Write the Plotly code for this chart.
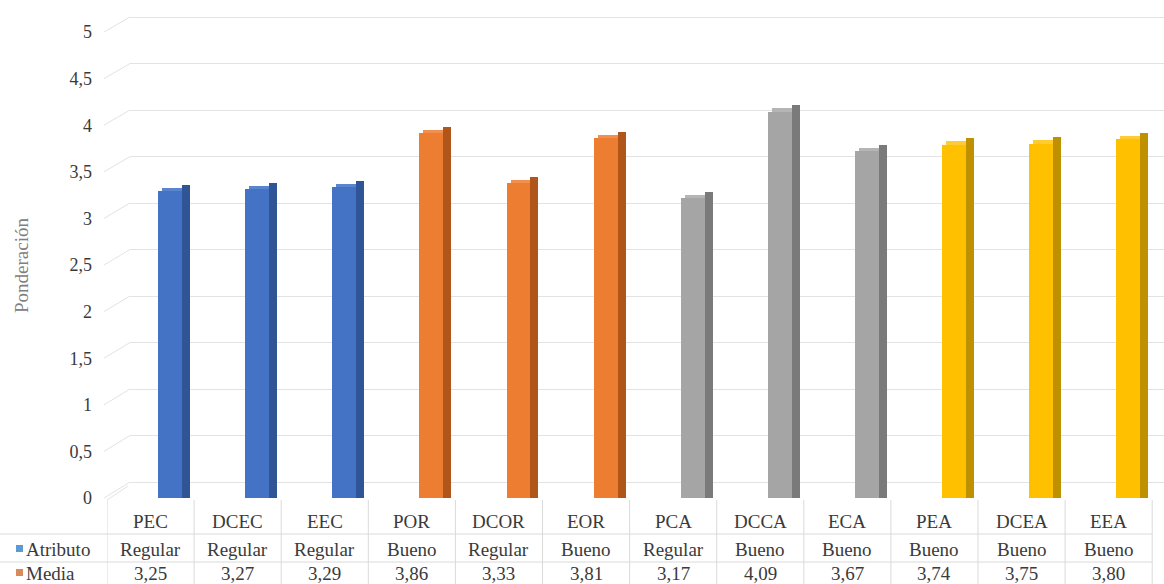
import plotly.graph_objects as go

# ---------------- data ----------------
categories = ["PEC", "DCEC", "EEC", "POR", "DCOR", "EOR", "PCA", "DCCA", "ECA", "PEA", "DCEA", "EEA"]
media = [3.25, 3.27, 3.29, 3.86, 3.33, 3.81, 3.17, 4.09, 3.67, 3.74, 3.75, 3.80]
atributo = ["Regular", "Regular", "Regular", "Bueno", "Regular", "Bueno",
            "Regular", "Bueno", "Bueno", "Bueno", "Bueno", "Bueno"]
media_labels = ["3,25", "3,27", "3,29", "3,86", "3,33", "3,81", "3,17", "4,09", "3,67", "3,74", "3,75", "3,80"]
tick_vals = [0, 0.5, 1, 1.5, 2, 2.5, 3, 3.5, 4, 4.5, 5]
tick_text = ["0", "0,5", "1", "1,5", "2", "2,5", "3", "3,5", "4", "4,5", "5"]
y_title = "Ponderación"

# ---------------- styling ----------------
front_cols = ["#4472C4"] * 3 + ["#ED7D31"] * 3 + ["#A5A5A5"] * 3 + ["#FFC000"] * 3
top_cols = ["#5B84CF"] * 3 + ["#F08F4E"] * 3 + ["#B5B5B5"] * 3 + ["#FFCB33"] * 3
side_cols = ["#2F5597"] * 3 + ["#B0561A"] * 3 + ["#7A7A7A"] * 3 + ["#BF9000"] * 3

W, H = 1164, 584
ML, MR, MT, MB = 107, 0, 15, 86
PW, PH = W - ML - MR, H - MT - MB
BOTTOM = H - MB                          # pixel row of plot bottom

LABEL_R = 5 * PH / 466.0                 # tick-label axis (5 at ~32 px)
BAR_R = PH / 94.5                        # bar axis
BACK_LO = -(BOTTOM - 482) / 93.0         # back wall grid
BACK_HI = BACK_LO + PH / 93.0

COLW = 87.1
X_HI = (PW / COLW) - 0.5                 # table right edge at ~1152

def px_x(p):
    return (p - ML) / PW

def px_y(p):
    return (BOTTOM - p) / PH

text_col = "#3A3A3A"
serif = "Liberation Serif"
FS = 19

bw = 0.275
front_off = 0.087
depth_x = 0.092

fig = go.Figure()

# invisible anchors for the grid subplot and the label axis
fig.add_trace(go.Scatter(x=[0], y=[0], xaxis="x", yaxis="y", mode="markers",
                         marker=dict(opacity=0), showlegend=False, hoverinfo="skip"))
fig.add_trace(go.Scatter(x=[categories[0]], y=[0], xaxis="x2", yaxis="y3", mode="markers",
                         marker=dict(opacity=0), showlegend=False, hoverinfo="skip"))

# top face
fig.add_trace(go.Bar(x=categories, y=[v + 0.035 for v in media], xaxis="x2", yaxis="y2",
                     width=bw, offset=front_off + depth_x / 2,
                     marker=dict(color=top_cols, line=dict(width=0)),
                     showlegend=False, hoverinfo="skip"))
# side face
fig.add_trace(go.Bar(x=categories, y=[v + 0.065 for v in media], xaxis="x2", yaxis="y2",
                     width=depth_x, offset=front_off + bw,
                     marker=dict(color=side_cols, line=dict(width=0)),
                     showlegend=False, hoverinfo="skip"))
# front face
fig.add_trace(go.Bar(x=categories, y=media, xaxis="x2", yaxis="y2",
                     width=bw, offset=front_off,
                     marker=dict(color=front_cols, line=dict(width=0)),
                     name="Media", showlegend=False))

shapes = []
annotations = []

# side-wall diagonal grid lines
for t in tick_vals:
    y0 = t / LABEL_R
    y1 = (t - BACK_LO) / (BACK_HI - BACK_LO)
    shapes.append(dict(type="line", xref="paper", yref="paper",
                       x0=px_x(104), y0=y0, x1=px_x(130), y1=y1,
                       line=dict(color="#E3E3E3", width=1)))
# floor corner
shapes.append(dict(type="line", xref="paper", yref="paper",
                   x0=px_x(107), y0=px_y(500), x1=px_x(128), y1=px_y(486),
                   line=dict(color="#E3E3E3", width=1)))

# table vertical lines
for k in range(len(categories) + 1):
    shapes.append(dict(type="line", xref="x2", yref="paper",
                       x0=k - 0.5, x1=k - 0.5, y0=px_y(500), y1=px_y(586),
                       line=dict(color="#DADADA", width=1)))
# table horizontal lines
for yy in (534, 562):
    shapes.append(dict(type="line", xref="paper", yref="paper",
                       x0=px_x(0), x1=px_x(1152), y0=px_y(yy), y1=px_y(yy),
                       line=dict(color="#DADADA", width=1)))

# table texts
for i, c in enumerate(categories):
    for txt, yy in ((c, 521), (atributo[i], 549), (media_labels[i], 573)):
        annotations.append(dict(x=c, y=px_y(yy), xref="x2", yref="paper", text=txt,
                                xanchor="center", yanchor="middle", showarrow=False,
                                font=dict(family=serif, size=FS, color=text_col)))

# row headers with keys
for label, col, yy in (("Atributo", "#5B9BD5", 549), ("Media", "#D9895A", 573)):
    shapes.append(dict(type="rect", xref="paper", yref="paper",
                       x0=px_x(16), x1=px_x(23), y0=px_y(yy + 3), y1=px_y(yy - 4),
                       fillcolor=col, line=dict(width=0)))
    annotations.append(dict(x=px_x(24), y=px_y(yy), xref="paper", yref="paper", text=label,
                            xanchor="left", yanchor="middle", showarrow=False,
                            font=dict(family=serif, size=FS, color=text_col)))

# y-axis title
annotations.append(dict(x=px_x(21), y=px_y(266), xref="paper", yref="paper", text=y_title,
                        textangle=-90, xanchor="center", yanchor="middle", showarrow=False,
                        font=dict(family=serif, size=19, color="#808080")))

fig.update_layout(
    width=W, height=H,
    margin=dict(l=ML, r=MR, t=MT, b=MB),
    paper_bgcolor="white", plot_bgcolor="rgba(0,0,0,0)",
    barmode="overlay", bargap=0,
    showlegend=False,
    xaxis=dict(domain=[px_x(130), 1], range=[0, 1], showgrid=False, zeroline=False,
               showticklabels=False, visible=False, anchor="y"),
    yaxis=dict(domain=[0, 1], range=[BACK_LO, BACK_HI], tickvals=tick_vals, showticklabels=False,
               showgrid=True, gridcolor="#E3E3E3", gridwidth=1, zeroline=False,
               showline=False, ticks="", anchor="x"),
    xaxis2=dict(domain=[0, 1], range=[-0.5, X_HI], showgrid=False,
                zeroline=False, showticklabels=False, showline=False, anchor="y2",
                type="category"),
    yaxis2=dict(domain=[0, 1], range=[0, BAR_R], showgrid=False, zeroline=False,
                showline=False, ticks="", showticklabels=False, anchor="x2"),
    yaxis3=dict(domain=[0, 1], range=[0, LABEL_R], tickvals=tick_vals, ticktext=tick_text,
                overlaying="y2", side="left", anchor="x2",
                showgrid=False, zeroline=False, showline=False, ticks="",
                ticklabelstandoff=14,
                tickfont=dict(family=serif, size=18, color=text_col)),
    shapes=shapes,
    annotations=annotations,
)

fig.write_html("out.html", config={"displayModeBar": False},
               post_script="document.body.style.margin='0';")
